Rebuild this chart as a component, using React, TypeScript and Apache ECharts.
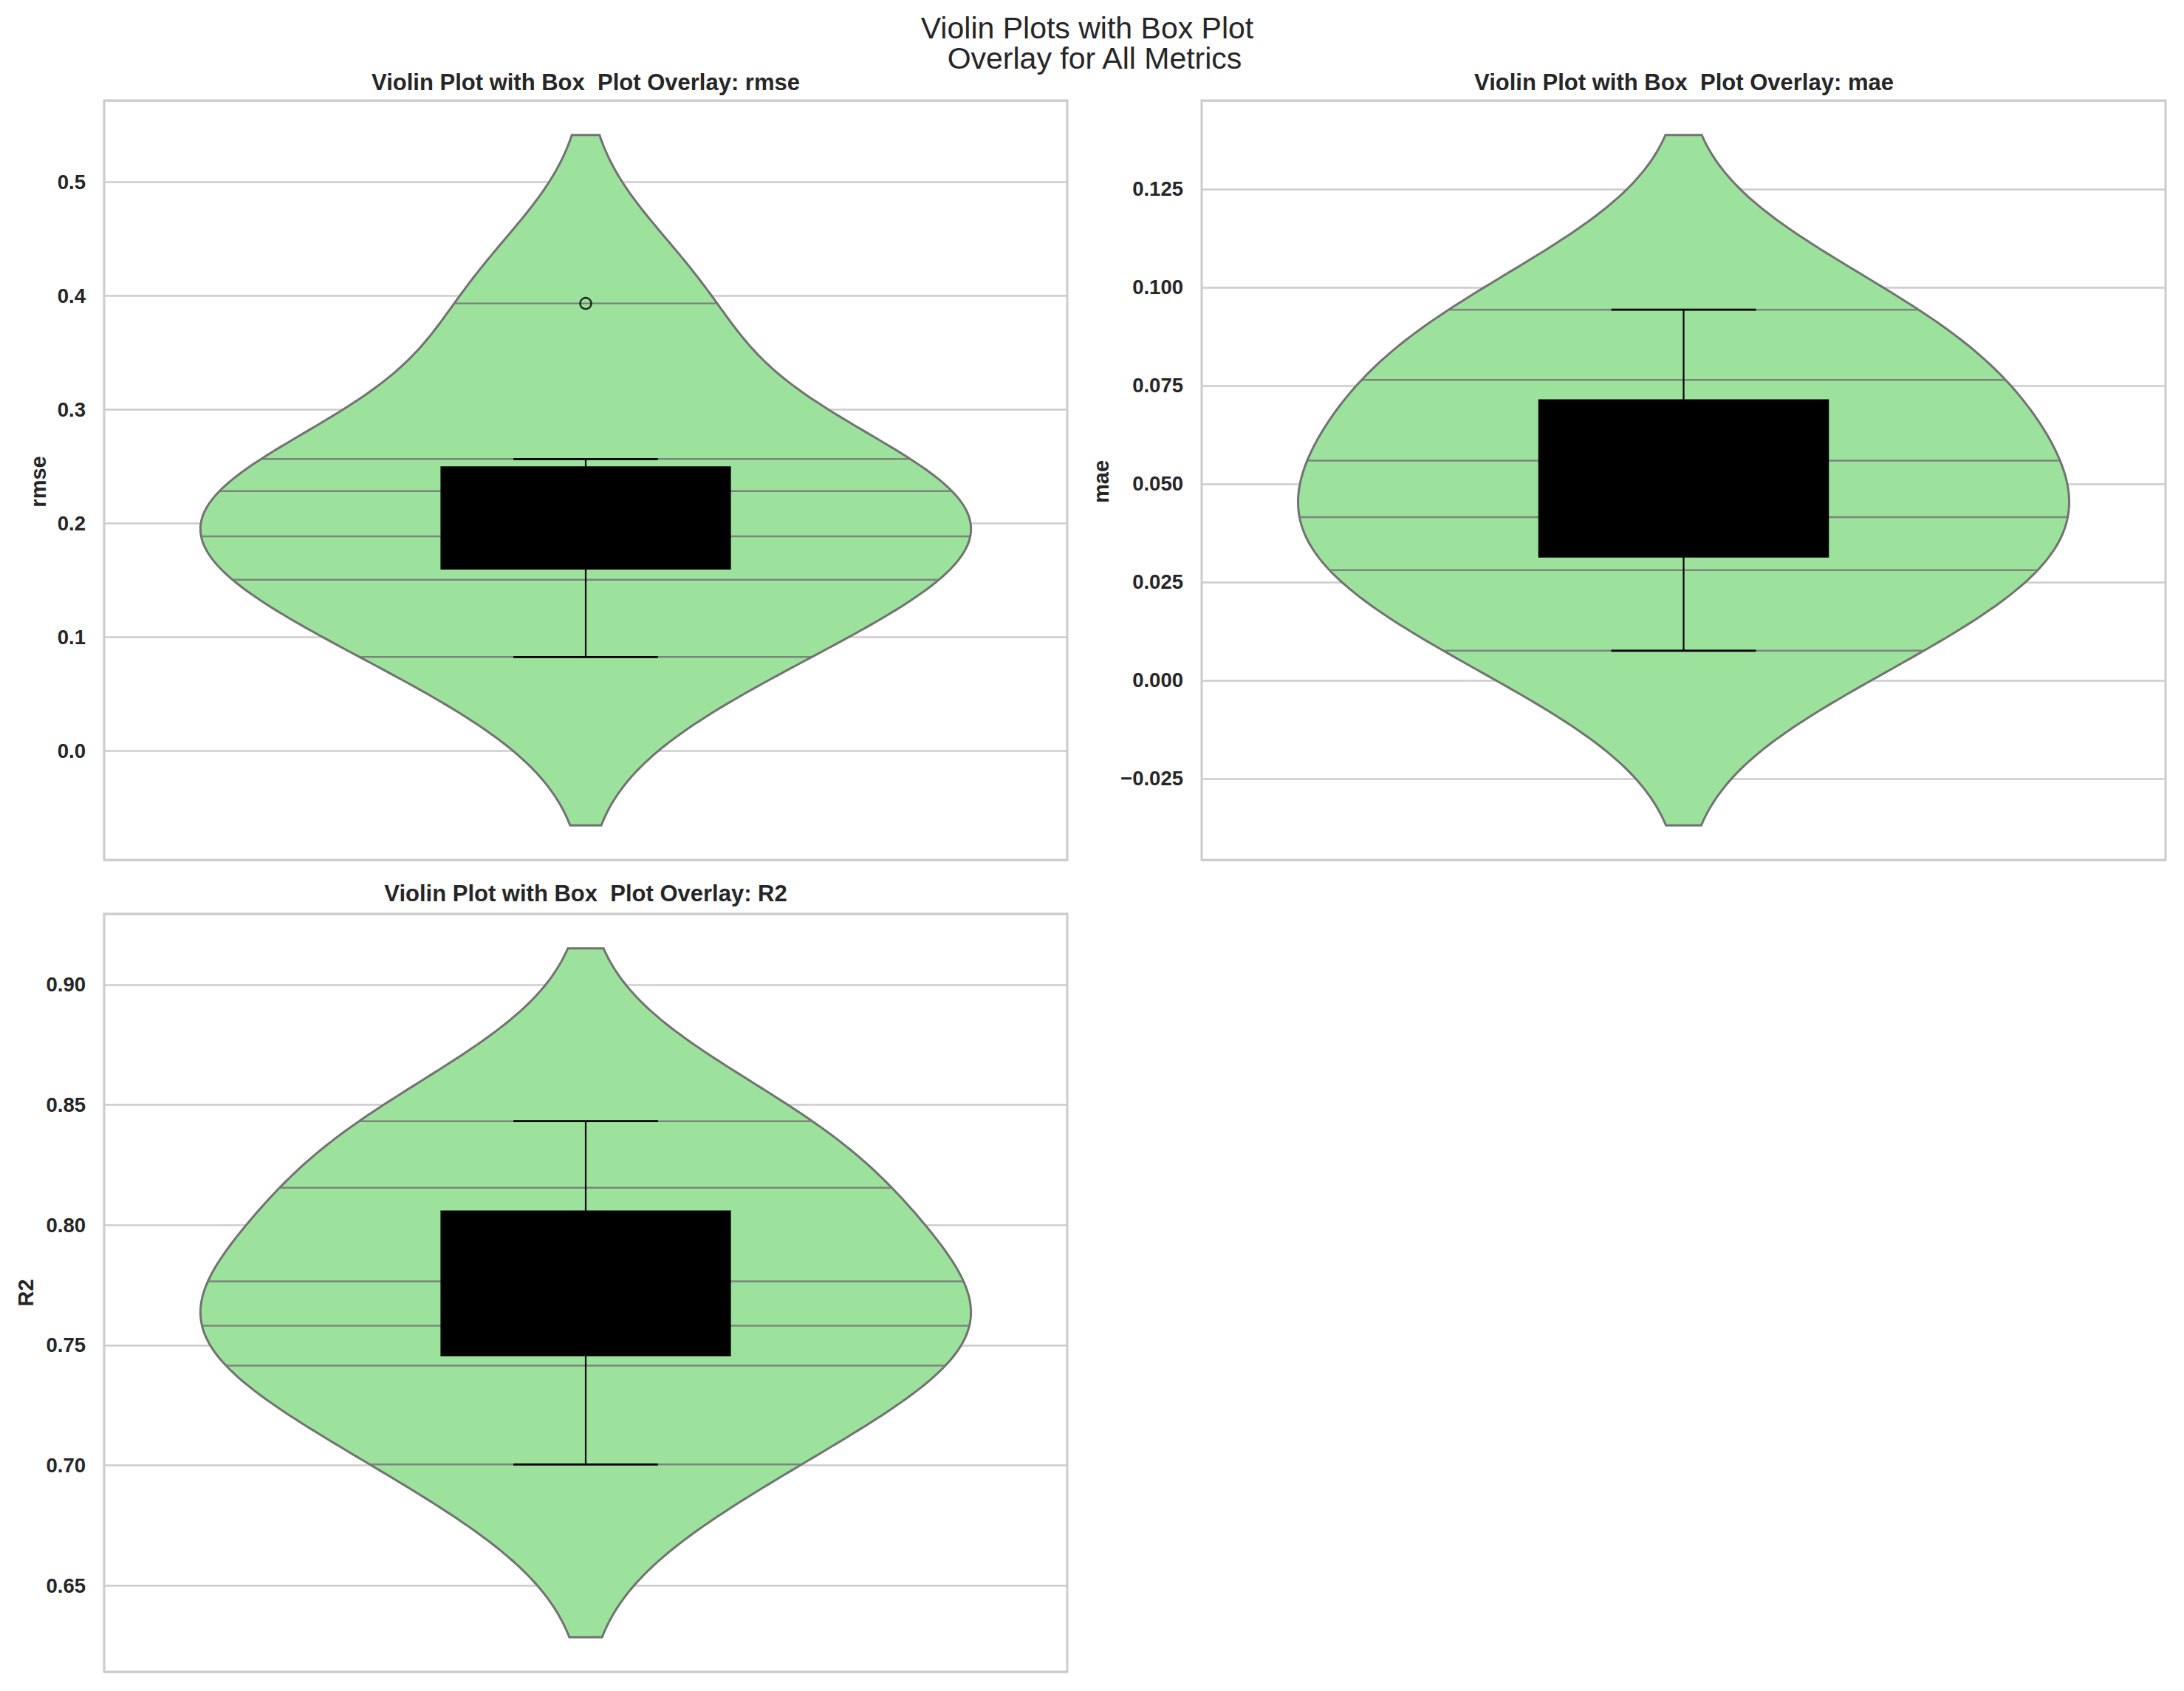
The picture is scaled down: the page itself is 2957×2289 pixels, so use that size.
import React, { useEffect, useRef } from "react";
import * as echarts from "echarts";

// ---------------- data ----------------
const metricNames = ["rmse", "mae", "R2"];
const rmseValues = [0.0827, 0.1506, 0.1887, 0.2286, 0.2567, 0.3935];
const maeValues = [0.0075, 0.028, 0.0415, 0.0559, 0.0764, 0.0943];
const r2Values = [0.7004, 0.7415, 0.7581, 0.7766, 0.8155, 0.8432];
const tickIntervals = [0.1, 0.025, 0.05];
const tickDecimals = [1, 3, 2];
const panelTitles = metricNames.map((m) => `Violin Plot with Box  Plot Overlay: ${m}`);
const suptitleLines = ["Violin Plots with Box Plot", "Overlay for All Metrics"];

const metricValues = [rmseValues, maeValues, r2Values];

// ---------------- styling / layout ----------------
const FONT = "'Liberation Sans', Arial, Helvetica, sans-serif";
const TEXT = "#262626";
const GRID_COLOR = "#cccccc";
const VIOLIN_FILL = "#9ce29c";
const VIOLIN_EDGE = "#727272";
const GRID_N = 200;

const panelRects = [
  { left: 141, top: 136, width: 1304, height: 1028 },
  { left: 1627, top: 136, width: 1305, height: 1028 },
  { left: 141, top: 1237, width: 1304, height: 1026 },
];
const titlePos = [
  [793, 111],
  [2280, 111],
  [793, 1209],
];
const yLabelPos = [
  [52, 652],
  [1491, 652],
  [35, 1750],
];

// ---------------- statistics ----------------
function quantile(s: number[], p: number) {
  const pos = (s.length - 1) * p;
  const lo = Math.floor(pos);
  const hi = Math.ceil(pos);
  return s[lo] + (s[hi] - s[lo]) * (pos - lo);
}

function boxStats(vals: number[]) {
  const s = [...vals].sort((a, b) => a - b);
  const q1 = quantile(s, 0.25);
  const med = quantile(s, 0.5);
  const q3 = quantile(s, 0.75);
  const iqr = q3 - q1;
  const loF = q1 - 1.5 * iqr;
  const hiF = q3 + 1.5 * iqr;
  const inside = s.filter((v) => v >= loF && v <= hiF);
  return {
    q1,
    med,
    q3,
    wlo: Math.min(...inside),
    whi: Math.max(...inside),
    outliers: s.filter((v) => v < loF || v > hiF),
  };
}

function kdeModel(vals: number[]) {
  const n = vals.length;
  const mean = vals.reduce((a, b) => a + b, 0) / n;
  const sd = Math.sqrt(vals.reduce((a, b) => a + (b - mean) ** 2, 0) / (n - 1));
  const bw = sd * Math.pow(n, -1 / 5);
  const dens = (y: number) =>
    vals.reduce((acc, v) => acc + Math.exp(-0.5 * ((y - v) / bw) ** 2), 0) /
    (n * bw * Math.sqrt(2 * Math.PI));
  const lo = Math.min(...vals) - 2 * bw;
  const hi = Math.max(...vals) + 2 * bw;
  const ys: number[] = [];
  for (let k = 0; k < GRID_N; k++) ys.push(lo + ((hi - lo) * k) / (GRID_N - 1));
  const maxD = Math.max(...ys.map(dens));
  const half = (y: number) => (0.4 * dens(y)) / maxD;
  return { lo, hi, ys, half };
}

function fmt(v: number, d: number) {
  const s = Math.abs(v) < 1e-12 ? (0).toFixed(d) : v.toFixed(d);
  return s.replace("-", "\u2212");
}

function buildOption() {
  const grid: any[] = [];
  const xAxis: any[] = [];
  const yAxis: any[] = [];
  const series: any[] = [];
  const graphic: any[] = [];

  metricValues.forEach((vals, i) => {
    const k = kdeModel(vals);
    const b = boxStats(vals);
    const pad = 0.05 * (k.hi - k.lo);
    const r = panelRects[i];

    grid.push({
      ...r,
      show: true,
      borderColor: GRID_COLOR,
      borderWidth: 3,
      backgroundColor: "transparent",
      outerBoundsMode: "none",
    });
    xAxis.push({ type: "value", gridIndex: i, min: -0.5, max: 0.5, show: false });
    yAxis.push({
      type: "value",
      gridIndex: i,
      min: k.lo - pad,
      max: k.hi + pad,
      minInterval: tickIntervals[i],
      maxInterval: tickIntervals[i],
      axisLine: { show: false },
      axisTick: { show: false },
      splitLine: { show: true, lineStyle: { color: GRID_COLOR, width: 2.5 } },
      axisLabel: {
        showMinLabel: false,
        showMaxLabel: false,
        margin: 25,
        fontSize: 27.5,
        fontWeight: "bold",
        fontFamily: FONT,
        color: TEXT,
        formatter: (v: number) => fmt(v, tickDecimals[i]),
      },
    });

    // violin body
    series.push({
      type: "custom",
      xAxisIndex: i,
      yAxisIndex: i,
      silent: true,
      clip: false,
      z: 1,
      data: [[0, (k.lo + k.hi) / 2]],
      encode: { x: 0, y: 1 },
      renderItem: (_p: any, api: any) => {
        const right = k.ys.map((y) => api.coord([k.half(y), y]));
        const left = k.ys
          .slice()
          .reverse()
          .map((y) => api.coord([-k.half(y), y]));
        return {
          type: "polygon",
          shape: { points: right.concat(left) },
          style: { fill: VIOLIN_FILL, stroke: VIOLIN_EDGE, lineWidth: 3 },
        };
      },
    });

    // sticks (one per observation)
    series.push({
      type: "custom",
      xAxisIndex: i,
      yAxisIndex: i,
      silent: true,
      clip: false,
      z: 2,
      data: vals.map((v) => [0, v]),
      encode: { x: 0, y: 1 },
      renderItem: (_p: any, api: any) => {
        const y = api.value(1);
        const w = k.half(y);
        const p1 = api.coord([-w, y]);
        const p2 = api.coord([w, y]);
        return {
          type: "line",
          shape: { x1: p1[0], y1: p1[1], x2: p2[0], y2: p2[1] },
          style: { stroke: "#757575", lineWidth: 2.5, opacity: 0.85 },
        };
      },
    });

    // box plot
    series.push({
      type: "custom",
      xAxisIndex: i,
      yAxisIndex: i,
      silent: true,
      clip: false,
      z: 3,
      data: [[0, b.q1, b.q3, b.med, b.wlo, b.whi]],
      encode: { x: 0, y: [1, 2, 3, 4, 5] },
      renderItem: (_p: any, api: any) => {
        const x = api.value(0);
        const q1 = api.value(1);
        const q3 = api.value(2);
        const med = api.value(3);
        const wlo = api.value(4);
        const whi = api.value(5);
        const hw = 0.15;
        const cw = 0.075;
        const seg = (a: number[], c: number[], lw: number) => {
          const p1 = api.coord(a);
          const p2 = api.coord(c);
          return {
            type: "line",
            shape: { x1: p1[0], y1: p1[1], x2: p2[0], y2: p2[1] },
            style: { stroke: "#000000", lineWidth: lw },
          };
        };
        const tl = api.coord([x - hw, q3]);
        const br = api.coord([x + hw, q1]);
        return {
          type: "group",
          children: [
            seg([x, q3], [x, whi], 2.2),
            seg([x, q1], [x, wlo], 2.2),
            seg([x - cw, whi], [x + cw, whi], 2.8),
            seg([x - cw, wlo], [x + cw, wlo], 2.8),
            {
              type: "rect",
              shape: { x: tl[0], y: tl[1], width: br[0] - tl[0], height: br[1] - tl[1] },
              style: { fill: "#000000", stroke: "#000000", lineWidth: 2 },
            },
            seg([x - hw, med], [x + hw, med], 2.5),
          ],
        };
      },
    });

    // outliers
    if (b.outliers.length) {
      series.push({
        type: "scatter",
        xAxisIndex: i,
        yAxisIndex: i,
        silent: true,
        z: 4,
        symbol: "circle",
        symbolSize: 15,
        itemStyle: { color: "rgba(0,0,0,0)", borderColor: "#000000", borderWidth: 2.5 },
        data: b.outliers.map((v) => [0, v]),
      });
    }

    graphic.push({
      type: "text",
      x: titlePos[i][0],
      y: titlePos[i][1],
      silent: true,
      style: {
        text: panelTitles[i],
        fontSize: 31,
        fontWeight: "bold",
        fontFamily: FONT,
        fill: TEXT,
        align: "center",
        verticalAlign: "middle",
      },
    });
    graphic.push({
      type: "text",
      x: yLabelPos[i][0],
      y: yLabelPos[i][1],
      rotation: Math.PI / 2,
      silent: true,
      style: {
        text: metricNames[i],
        fontSize: 29,
        fontWeight: "bold",
        fontFamily: FONT,
        fill: TEXT,
        align: "center",
        verticalAlign: "middle",
      },
    });
  });

  graphic.push({
    type: "text",
    x: 1472,
    y: 38,
    silent: true,
    style: {
      text: suptitleLines[0],
      fontSize: 41,
      fontFamily: FONT,
      fill: TEXT,
      align: "center",
      verticalAlign: "middle",
    },
  });
  graphic.push({
    type: "text",
    x: 1482,
    y: 79,
    silent: true,
    style: {
      text: suptitleLines[1],
      fontSize: 41,
      fontFamily: FONT,
      fill: TEXT,
      align: "center",
      verticalAlign: "middle",
    },
  });

  return {
    animation: false,
    backgroundColor: "#ffffff",
    grid,
    xAxis,
    yAxis,
    series,
    graphic,
  };
}

export default function App() {
  const ref = useRef<HTMLDivElement>(null);
  useEffect(() => {
    document.body.style.margin = "0";
    if (!ref.current) return;
    const chart = echarts.init(ref.current, undefined, { renderer: "svg" });
    chart.setOption(buildOption() as any);
    return () => chart.dispose();
  }, []);
  return <div ref={ref} style={{ width: 2957, height: 2289 }} />;
}
